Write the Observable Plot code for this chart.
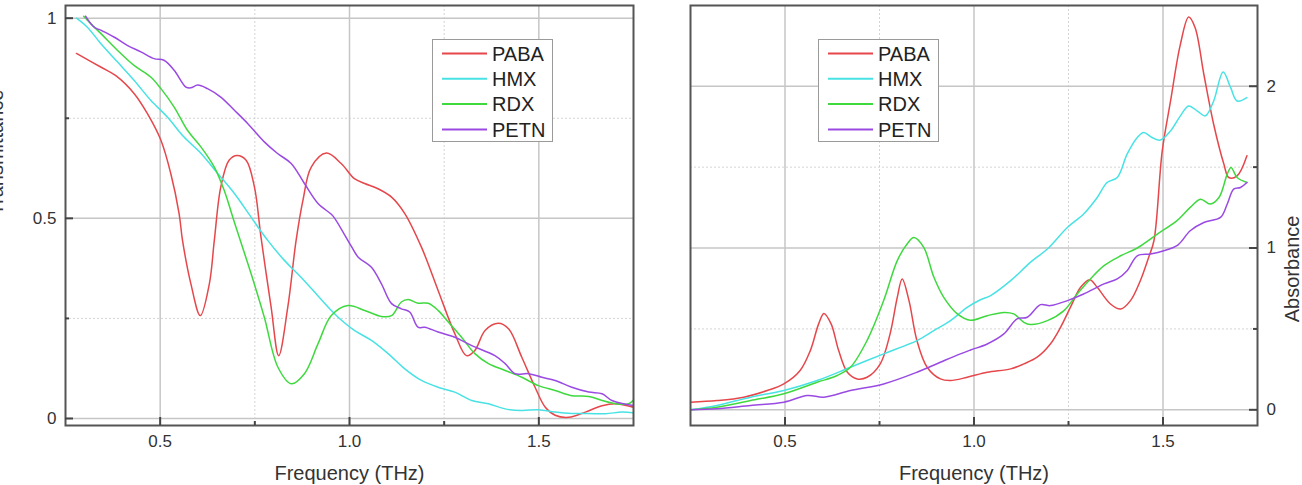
<!DOCTYPE html>
<html><head><meta charset="utf-8">
<script src="https://cdn.jsdelivr.net/npm/d3@7"></script>
<script src="https://cdn.jsdelivr.net/npm/@observablehq/plot@0.6"></script>
<style>
body{margin:0;background:#fff;}
#wrap{position:relative;width:1302px;height:485px;overflow:hidden;font-family:"Liberation Sans",Arial,sans-serif;}
.panel{position:absolute;top:0;}
.legend{position:absolute;border:1px solid #9a9a9a;background:#fff;box-sizing:border-box;}
</style></head><body><div id="wrap"></div>
<script>
// ---- categories / style keys ----
const SERIES = ["PABA", "HMX", "RDX", "PETN"];
const COLORS = ["#e5474b", "#48e2e4", "#3fd93f", "#9a4ae2"];

// ---- tick values / labels ----
const xMajor = [0.5, 1.0, 1.5];
const xMajorLabels = ["0.5", "1.0", "1.5"];
const xMinor = [0.75, 1.25];
const yLeftMajor = [0, 0.5, 1];
const yLeftMajorLabels = ["0", "0.5", "1"];
const yLeftMinor = [0.25, 0.75];
const yRightMajor = [0, 1, 2];
const yRightMajorLabels = ["0", "1", "2"];
const yRightMinor = [0.5, 1.5];

// ---- left panel: transmittance [frequency THz, value] ----
const transPABA = [[0.279,0.912],[0.343,0.878],[0.382,0.857],[0.431,0.812],[0.466,0.762],[0.502,0.695],[0.528,0.612],[0.55,0.512],[0.559,0.445],[0.581,0.337],[0.606,0.257],[0.63,0.337],[0.643,0.445],[0.66,0.578],[0.682,0.645],[0.703,0.657],[0.727,0.645],[0.749,0.578],[0.766,0.455],[0.793,0.278],[0.813,0.157],[0.837,0.278],[0.859,0.445],[0.877,0.545],[0.899,0.628],[0.939,0.663],[0.978,0.637],[1.013,0.599],[1.04,0.587],[1.075,0.574],[1.111,0.553],[1.146,0.512],[1.19,0.428],[1.234,0.32],[1.278,0.212],[1.309,0.157],[1.331,0.17],[1.358,0.22],[1.393,0.238],[1.42,0.224],[1.455,0.153],[1.49,0.078],[1.517,0.028],[1.543,0.008],[1.579,0.003],[1.623,0.016],[1.667,0.032],[1.702,0.037],[1.75,0.028]];
const transHMX = [[0.279,1.0],[0.307,0.978],[0.343,0.937],[0.387,0.891],[0.431,0.845],[0.475,0.795],[0.519,0.753],[0.563,0.703],[0.608,0.662],[0.652,0.612],[0.696,0.562],[0.74,0.503],[0.784,0.445],[0.828,0.395],[0.872,0.353],[0.917,0.306],[0.952,0.27],[0.97,0.253],[1.013,0.22],[1.058,0.195],[1.102,0.162],[1.146,0.124],[1.19,0.095],[1.234,0.078],[1.278,0.066],[1.323,0.045],[1.367,0.037],[1.411,0.024],[1.455,0.02],[1.499,0.022],[1.543,0.016],[1.587,0.0125],[1.63,0.0125],[1.676,0.012],[1.72,0.016],[1.75,0.014]];
const transRDX = [[0.298,1.005],[0.316,0.987],[0.343,0.962],[0.387,0.92],[0.431,0.882],[0.475,0.853],[0.502,0.824],[0.537,0.778],[0.572,0.72],[0.608,0.678],[0.643,0.628],[0.669,0.57],[0.696,0.49],[0.74,0.362],[0.775,0.253],[0.811,0.128],[0.846,0.087],[0.881,0.112],[0.917,0.187],[0.952,0.257],[0.996,0.282],[1.04,0.27],[1.084,0.255],[1.111,0.257],[1.137,0.291],[1.155,0.297],[1.181,0.288],[1.208,0.288],[1.234,0.27],[1.261,0.241],[1.296,0.203],[1.331,0.162],[1.367,0.137],[1.411,0.12],[1.455,0.103],[1.499,0.082],[1.543,0.07],[1.587,0.057],[1.632,0.055],[1.667,0.045],[1.702,0.037],[1.737,0.037],[1.751,0.047]];
const transPETN = [[0.303,1.005],[0.325,0.978],[0.343,0.97],[0.378,0.953],[0.413,0.932],[0.449,0.916],[0.484,0.899],[0.51,0.895],[0.537,0.87],[0.568,0.828],[0.581,0.826],[0.599,0.833],[0.625,0.824],[0.66,0.803],[0.696,0.77],[0.731,0.737],[0.775,0.691],[0.81,0.662],[0.846,0.637],[0.881,0.587],[0.917,0.537],[0.952,0.51],[0.961,0.5],[1.005,0.43],[1.023,0.403],[1.058,0.378],[1.084,0.337],[1.111,0.287],[1.137,0.274],[1.159,0.266],[1.181,0.228],[1.199,0.228],[1.234,0.216],[1.278,0.203],[1.323,0.182],[1.384,0.157],[1.411,0.137],[1.437,0.112],[1.473,0.112],[1.508,0.103],[1.543,0.095],[1.587,0.078],[1.632,0.066],[1.667,0.062],[1.693,0.045],[1.751,0.032]];

// ---- right panel: absorbance [frequency THz, value] ----
const absPABA = [[0.25,0.047],[0.32,0.057],[0.391,0.078],[0.453,0.119],[0.497,0.16],[0.54,0.243],[0.567,0.366],[0.589,0.531],[0.603,0.596],[0.622,0.531],[0.642,0.366],[0.665,0.232],[0.691,0.191],[0.717,0.201],[0.752,0.284],[0.778,0.469],[0.797,0.695],[0.81,0.809],[0.828,0.675],[0.849,0.428],[0.876,0.263],[0.911,0.191],[0.938,0.181],[0.982,0.201],[1.035,0.232],[1.097,0.253],[1.132,0.284],[1.167,0.325],[1.202,0.407],[1.229,0.51],[1.255,0.633],[1.282,0.757],[1.306,0.804],[1.326,0.757],[1.361,0.654],[1.388,0.623],[1.414,0.675],[1.44,0.798],[1.462,0.942],[1.476,1.045],[1.498,1.6],[1.52,1.909],[1.546,2.259],[1.568,2.428],[1.585,2.362],[1.608,2.074],[1.634,1.765],[1.661,1.519],[1.674,1.436],[1.696,1.446],[1.722,1.57]];
const absHMX = [[0.25,0.0],[0.32,0.027],[0.409,0.078],[0.497,0.119],[0.585,0.181],[0.673,0.263],[0.761,0.346],[0.849,0.428],[0.894,0.49],[0.938,0.551],[0.982,0.633],[1.017,0.68],[1.044,0.706],[1.097,0.798],[1.149,0.911],[1.194,0.994],[1.247,1.127],[1.29,1.21],[1.326,1.312],[1.352,1.405],[1.379,1.436],[1.405,1.58],[1.432,1.683],[1.449,1.714],[1.471,1.683],[1.493,1.667],[1.52,1.724],[1.546,1.817],[1.568,1.878],[1.59,1.848],[1.612,1.817],[1.634,1.909],[1.659,2.088],[1.679,1.991],[1.696,1.909],[1.722,1.93]];
const absRDX = [[0.25,0.0],[0.32,0.016],[0.409,0.057],[0.497,0.099],[0.585,0.17],[0.638,0.212],[0.673,0.263],[0.717,0.428],[0.761,0.675],[0.797,0.922],[0.823,1.025],[0.841,1.065],[0.867,1.004],[0.894,0.819],[0.92,0.695],[0.956,0.593],[0.991,0.553],[1.035,0.582],[1.079,0.602],[1.105,0.593],[1.132,0.541],[1.149,0.527],[1.194,0.551],[1.238,0.613],[1.273,0.716],[1.308,0.809],[1.344,0.891],[1.388,0.952],[1.432,1.0],[1.485,1.086],[1.537,1.169],[1.572,1.251],[1.599,1.302],[1.625,1.272],[1.648,1.312],[1.67,1.457],[1.68,1.498],[1.696,1.436],[1.722,1.405]];
const absPETN = [[0.25,0.0],[0.32,0.006],[0.409,0.027],[0.497,0.047],[0.559,0.088],[0.603,0.078],[0.673,0.119],[0.761,0.16],[0.849,0.232],[0.911,0.294],[0.964,0.346],[0.991,0.37],[1.035,0.407],[1.079,0.469],[1.114,0.562],[1.141,0.572],[1.176,0.65],[1.202,0.644],[1.247,0.675],[1.29,0.716],[1.344,0.778],[1.379,0.809],[1.405,0.86],[1.432,0.952],[1.467,0.963],[1.502,0.983],[1.54,1.02],[1.572,1.107],[1.608,1.158],[1.652,1.189],[1.67,1.272],[1.687,1.364],[1.705,1.374],[1.722,1.405]];

const xTitle = "Frequency (THz)";
const yTitleLeft = "Transmittance";
const yTitleRight = "Absorbance";

function toRows(list) {
  return list.flatMap((arr, i) => arr.map(([f, v]) => ({s: SERIES[i], f, v})));
}
const leftRows = toRows([transPABA, transHMX, transRDX, transPETN]);
const rightRows = toRows([absPABA, absHMX, absRDX, absPETN]);

const FONT = '"Liberation Sans", Arial, sans-serif';
const H = 485, mT = 5, mB = 60;

function panel(o) {
  const fw = o.width - o.mL - o.mR, fh = H - mT - mB;
  const tickY = (vals, len) => Plot.ruleY(vals, Object.assign({stroke: "#444", strokeWidth: 2},
    o.yAnchor === "left" ? {insetRight: fw - len} : {insetLeft: fw - len}));
  const fmt = (vals, labels) => d => { const i = vals.findIndex(t => Math.abs(t - d) < 1e-9); return i >= 0 ? labels[i] : ""; };
  return Plot.plot({
    width: o.width, height: H,
    marginLeft: o.mL, marginRight: o.mR, marginTop: mT, marginBottom: mB,
    style: {fontFamily: FONT, fontSize: "17px", color: "#333", background: "white", overflow: "visible"},
    x: {domain: [0.25, 1.75]},
    y: {domain: o.yDomain},
    color: {domain: SERIES, range: COLORS},
    marks: [
      Plot.ruleX(xMinor, {stroke: "#d4d4d4", strokeWidth: 1, strokeDasharray: "2,2"}),
      Plot.ruleY(o.yMinor, {stroke: "#d4d4d4", strokeWidth: 1, strokeDasharray: "2,2"}),
      Plot.ruleX(xMajor, {stroke: "#c6c6c6", strokeWidth: 1.5}),
      Plot.ruleY(o.yMajor, {stroke: "#c6c6c6", strokeWidth: 1.5}),
      Plot.line(o.rows, {x: "f", y: "v", z: "s", stroke: "s", strokeWidth: 1.5, curve: "catmull-rom", clip: true}),
      Plot.frame({stroke: "#555", strokeWidth: 2}),
      Plot.ruleX(xMajor, {stroke: "#444", strokeWidth: 2, insetTop: fh - 8}),
      Plot.ruleX(xMinor, {stroke: "#444", strokeWidth: 2, insetTop: fh - 4}),
      tickY(o.yMajor, 8),
      tickY(o.yMinor, 4),
      Plot.axisX({ticks: xMajor, tickSize: 0, tickPadding: 9, tickFormat: fmt(xMajor, xMajorLabels), label: null, fontSize: 17}),
      Plot.axisY({anchor: o.yAnchor, ticks: o.yMajor, tickSize: 0, tickPadding: 9, tickFormat: fmt(o.yMajor, o.yMajorLabels), label: null, fontSize: 17}),
      Plot.text([xTitle], {text: d => d, frameAnchor: "bottom", dy: 54, fontSize: 20, lineAnchor: "bottom", fill: "#333"}),
      Plot.text([o.yTitle], {text: d => d, frameAnchor: o.yAnchor, dx: o.yTitleDx, rotate: -90, fontSize: 20, lineAnchor: "bottom", fill: "#333"})
    ]
  });
}

function legend(left, top) {
  const div = document.createElement("div");
  div.className = "legend";
  div.style.left = left + "px"; div.style.top = top + "px";
  div.style.width = "121px"; div.style.height = "103px";
  const svg = d3.select(div).append("svg").attr("width", 119).attr("height", 101).style("display", "block");
  SERIES.forEach((s, i) => {
    const y = 13.5 + i * 25.3;
    svg.append("line").attr("x1", 9).attr("x2", 54).attr("y1", y).attr("y2", y)
      .attr("stroke", COLORS[i]).attr("stroke-width", 2);
    svg.append("text").attr("x", 59).attr("y", y).attr("dy", "0.36em")
      .attr("font-family", FONT).attr("font-size", 20).attr("fill", "#222").text(s);
  });
  return div;
}

const wrap = document.getElementById("wrap");
const left = panel({rows: leftRows, width: 650, mL: 65, mR: 17, yDomain: [-0.0175, 1.0317],
  yMajor: yLeftMajor, yMajorLabels: yLeftMajorLabels, yMinor: yLeftMinor, yAnchor: "left",
  yTitle: yTitleLeft, yTitleDx: -63});
left.classList.add("panel"); left.style.left = "0px";
const right = panel({rows: rightRows, width: 652, mL: 40, mR: 45, yDomain: [-0.097, 2.499],
  yMajor: yRightMajor, yMajorLabels: yRightMajorLabels, yMinor: yRightMinor, yAnchor: "right",
  yTitle: yTitleRight, yTitleDx: 41});
right.classList.add("panel"); right.style.left = "650px";
wrap.appendChild(left);
wrap.appendChild(right);
wrap.appendChild(legend(432, 39));
wrap.appendChild(legend(818, 39));
</script></body></html>
